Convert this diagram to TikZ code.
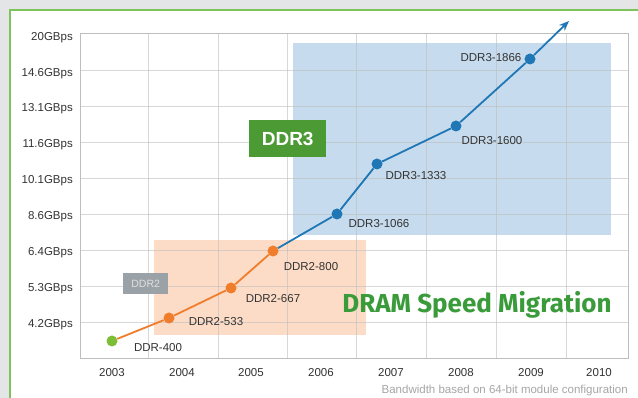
\documentclass[tikz,border=0pt]{standalone}
\usepackage{fontspec}
\setmainfont{Liberation Sans}
\newfontfamily\titlefont{Fira Sans}
\usetikzlibrary{arrows.meta,positioning,calc}

\definecolor{panelgrey}{HTML}{E4E5E7}
\definecolor{framegreen}{HTML}{7DC35B}
\definecolor{gridgrey}{HTML}{BEBEBE}
\definecolor{boxblue}{HTML}{C6DBED}
\definecolor{boxpeach}{HTML}{FCDCC7}
\definecolor{ddrthree}{HTML}{4B9A33}
\definecolor{ddrtwo}{HTML}{9AA2A7}
\definecolor{lineorange}{HTML}{F07D2B}
\definecolor{lineblue}{HTML}{1F77B6}
\definecolor{dotgreen}{HTML}{7DBE37}
\definecolor{titlegreen}{HTML}{3A9B3A}

\begin{document}
\begin{tikzpicture}[x=1pt,y=-1pt,
    gridline/.style={gridgrey,line width=0.9pt,opacity=0.6},
    ticklabel/.style={font=\fontsize{11.5}{13}\selectfont,text=black!80,inner sep=0pt},
    speedpt/.style={circle,inner sep=0pt,minimum size=11pt},
    speedlabel/.style={font=\fontsize{11.5}{13}\selectfont,text=black!80,inner sep=0pt},
    genbox/.style={inner sep=0pt,anchor=north west},
  ]
  \useasboundingbox (0,0) rectangle (638,398);
  % panel
  \fill[panelgrey] (0,0) rectangle (638,398);
  \draw[fill=white,draw=framegreen,line width=1.6pt] (10,10) rectangle (645,405);

  % generation boxes
  \fill[boxblue] (293,43) rectangle (611,235);
  \fill[boxpeach] (154,240) rectangle (366,335);

  % grid
  \foreach \y in {70,106,142,178,214,250,286,322}
    \draw[gridline] (80,\y) -- (628,\y);
  \foreach \x in {148,218,287,356,426,496,566}
    \draw[gridline] (\x,33) -- (\x,358);
  \draw[gridgrey,line width=0.9pt] (80,33) rectangle (628,358);

  % axis labels
  \foreach \lab/\y in {20/38,14.6/74,13.1/109,11.6/145,10.1/181,8.6/217,6.4/253,5.3/289,4.2/325}
    \node[ticklabel,anchor=east] at (73,\y) {\lab GBps};
  \foreach \yr/\x in {2003/112,2004/182,2005/251,2006/321,2007/391,2008/461,2009/531,2010/599}
    \node[ticklabel] at (\x,373) {\yr};

  % boxes with names
  \node[genbox,fill=ddrthree,minimum width=77pt,minimum height=37pt,
        text=white,font=\bfseries\fontsize{19}{20}\selectfont] (ddr3box) at (249,120) {DDR3};
  \node[genbox,fill=ddrtwo,minimum width=45pt,minimum height=21pt,
        text=black!12,font=\fontsize{10.5}{12}\selectfont] (ddr2box) at (123,273) {DDR2};

  % data points
  \node[speedpt,fill=dotgreen] (d400) at (112,341) {};
  \node[speedpt,fill=lineorange] (d533) at (169,318) {};
  \node[speedpt,fill=lineorange] (d667) at (231,288) {};
  \node[speedpt,fill=lineorange] (d800) at (273,251) {};
  \node[speedpt,fill=lineblue] (d1066) at (337,214) {};
  \node[speedpt,fill=lineblue] (d1333) at (377,164) {};
  \node[speedpt,fill=lineblue] (d1600) at (456,126) {};
  \node[speedpt,fill=lineblue] (d1866) at (530,59) {};
  \coordinate (tip) at (569,21);

  \draw[lineorange,line width=1.8pt] (d400) -- (d533) -- (d667) -- (d800);
  \draw[lineblue,line width=1.8pt] (d800) -- (d1066) -- (d1333) -- (d1600) -- (d1866);
  \draw[lineblue,line width=1.8pt,-{Stealth[length=10pt,width=8pt]}] (d1866) -- (tip);

  % point labels
  \node[speedlabel] (l400) at (158,348) {DDR-400};
  \node[speedlabel] (l533) at (216,322) {DDR2-533};
  \node[speedlabel] (l667) at (273,299) {DDR2-667};
  \node[speedlabel] (l800) at (311,267) {DDR2-800};
  \node[speedlabel] (l1066) at (379,224) {DDR3-1066};
  \node[speedlabel] (l1333) at (416,176) {DDR3-1333};
  \node[speedlabel] (l1600) at (492,141) {DDR3-1600};
  \node[speedlabel] (l1866) at (491,58) {DDR3-1866};

  % title and note
  \node[text=titlegreen,font=\titlefont\bfseries\fontsize{26}{28}\selectfont,inner sep=0pt]
    (title) at (477,305) {DRAM Speed Migration};
  \node[text=black!35,font=\fontsize{11.5}{13}\selectfont,inner sep=0pt,anchor=east]
    (note) at (628,391) {Bandwidth based on 64-bit module configuration};
\end{tikzpicture}
\end{document}
